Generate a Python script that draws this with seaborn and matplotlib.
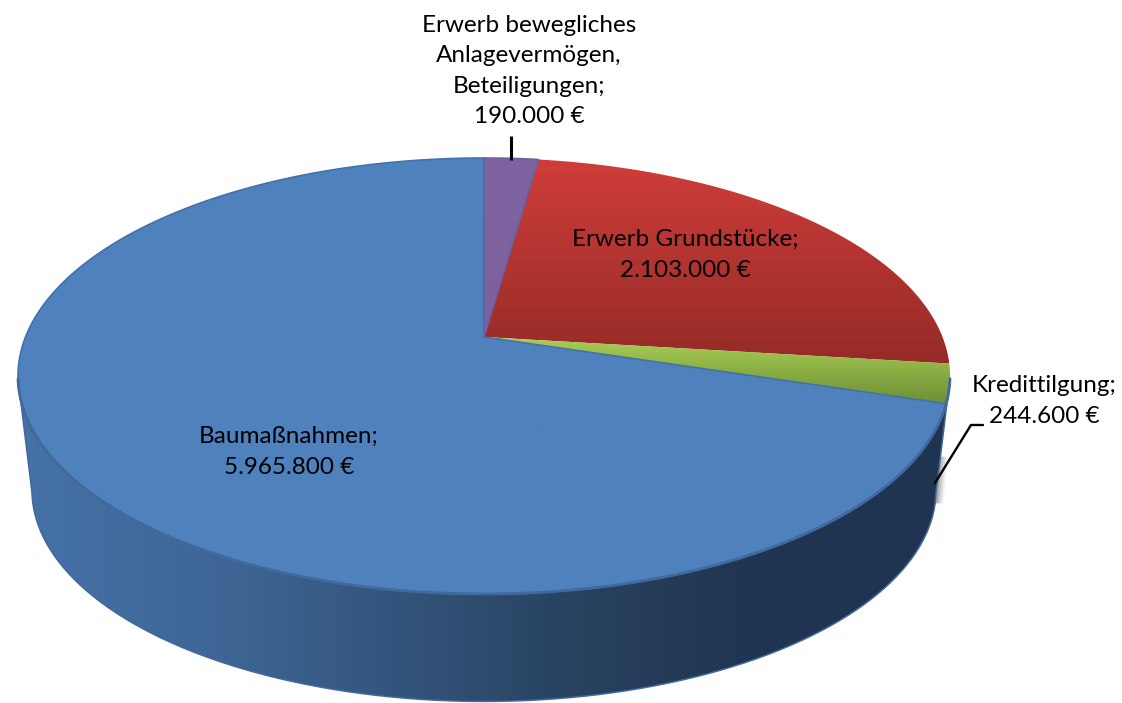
import numpy as np
import seaborn as sns
from matplotlib import pyplot as plt
from matplotlib.patches import Polygon

categories = ["Erwerb bewegliches\nAnlagevermögen,\nBeteiligungen", "Erwerb Grundstücke", "Kredittilgung", "Baumaßnahmen"]
values = [190000, 2103000, 244600, 5965800]
top_colors = [["#8064a2", "#7d619f"], ["#cf3d3a", "#952b27"], ["#a9cf55", "#6e8e34"], ["#4f81bd", "#4f81bd"]]
edge_colors = ["#6a5fa0", None, None, "#4272aa"]
wall_colors = ["#4672a8", "#3f6797", "#33557d", "#28425f", "#1f3450", "#1f3450"]

sns.set_theme(style="white")
plt.rcParams["font.family"] = ["Lato", "DejaVu Sans"]

# pie plane seen in perspective
cx, cy = 484, 337
rx, ry, persp = 458.5, 211, 0.1789
mid_y, bot_y, bot_scale = 376, 490, 0.97


def project(angle):
    # angle in degrees, clockwise from 12 o'clock
    t = np.radians(angle)
    w = 1 + persp * np.cos(t)
    return cx + rx * np.sin(t) / w, cy - ry * np.cos(t) / w


def project_bottom(angle):
    x, y = project(angle)
    return cx + bot_scale * (x - cx), bot_y + bot_scale * (y - mid_y)


def gradient_fill(ax, poly, colors, horizontal=False):
    cmap = sns.blend_palette(colors, n_colors=256, as_cmap=True)
    x0, x1 = poly[:, 0].min(), poly[:, 0].max()
    y0, y1 = poly[:, 1].min(), poly[:, 1].max()
    ramp = np.linspace(0, 1, 256)
    ramp = ramp.reshape(1, -1) if horizontal else ramp.reshape(-1, 1)
    im = ax.imshow(ramp, cmap=cmap, extent=(x0, x1, y1, y0), aspect="auto", zorder=2, vmin=0, vmax=1)
    patch = Polygon(poly, closed=True, transform=ax.transData)
    im.set_clip_path(patch)


fig = plt.figure(figsize=(11.22, 7.03), dpi=100)
ax = fig.add_axes([0, 0, 1, 1])
ax.axis("off")

# side wall
front = np.linspace(101, 259, 200)
wall = np.array(list(zip(*project(front))) + list(zip(*project_bottom(front)))[::-1])
gradient_fill(ax, wall, wall_colors, horizontal=True)
bx, by = project_bottom(front)
ax.plot(bx, by, color="#41699e", lw=1.1, zorder=3)
ax.plot([wall[0, 0], bx[0]], [wall[0, 1], by[0]], color="#41699e", lw=1.1, zorder=3)
ax.plot([wall[199, 0], bx[-1]], [wall[199, 1], by[-1]], color="#41699e", lw=1.1, zorder=3)

# soft shadow right of the wall
for off, alpha in zip([2, 4, 6, 8], [0.32, 0.22, 0.13, 0.06]):
    ax.plot([938 + off, 934 + off], [458, 502], color="#404040", alpha=alpha, lw=2.5, zorder=1, solid_capstyle="round")

# top surface
edges = 360 * np.cumsum([0] + values) / np.sum(values)
for i in [3, 1, 2, 0]:
    arc = np.linspace(edges[i], edges[i + 1], 200)
    ax_x, ax_y = project(arc)
    poly = np.vstack([[cx, cy], np.column_stack([ax_x, ax_y])])
    gradient_fill(ax, poly, top_colors[i])
    if edge_colors[i] is not None:
        ax.add_patch(Polygon(poly, closed=True, fill=False, edgecolor=edge_colors[i], lw=1.2, zorder=4, joinstyle="round"))

# darker rim where the top meets the wall
rim_x, rim_y = project(front)
ax.plot(rim_x, rim_y, color="#41699e", lw=2, zorder=4)

# labels
label_pos = [(529, 71), (685, 255), (1044, 401), (289, 452)]
for name, val, pos in zip(categories, values, label_pos):
    txt = name + ";\n" + f"{val:,}".replace(",", ".") + " €"
    ax.text(pos[0], pos[1], txt, ha="center", va="center", fontsize=17.5, color="black", linespacing=1.55, zorder=6)

# leader lines
ax.plot([511, 511], [136, 160], color="black", lw=2.2, zorder=5, solid_capstyle="butt")
ax.plot([983, 971, 935], [425, 425, 483], color="black", lw=1.7, zorder=5)

ax.set_xlim(0, 1122)
ax.set_ylim(703, 0)
fig.savefig("out.png", dpi=100)
